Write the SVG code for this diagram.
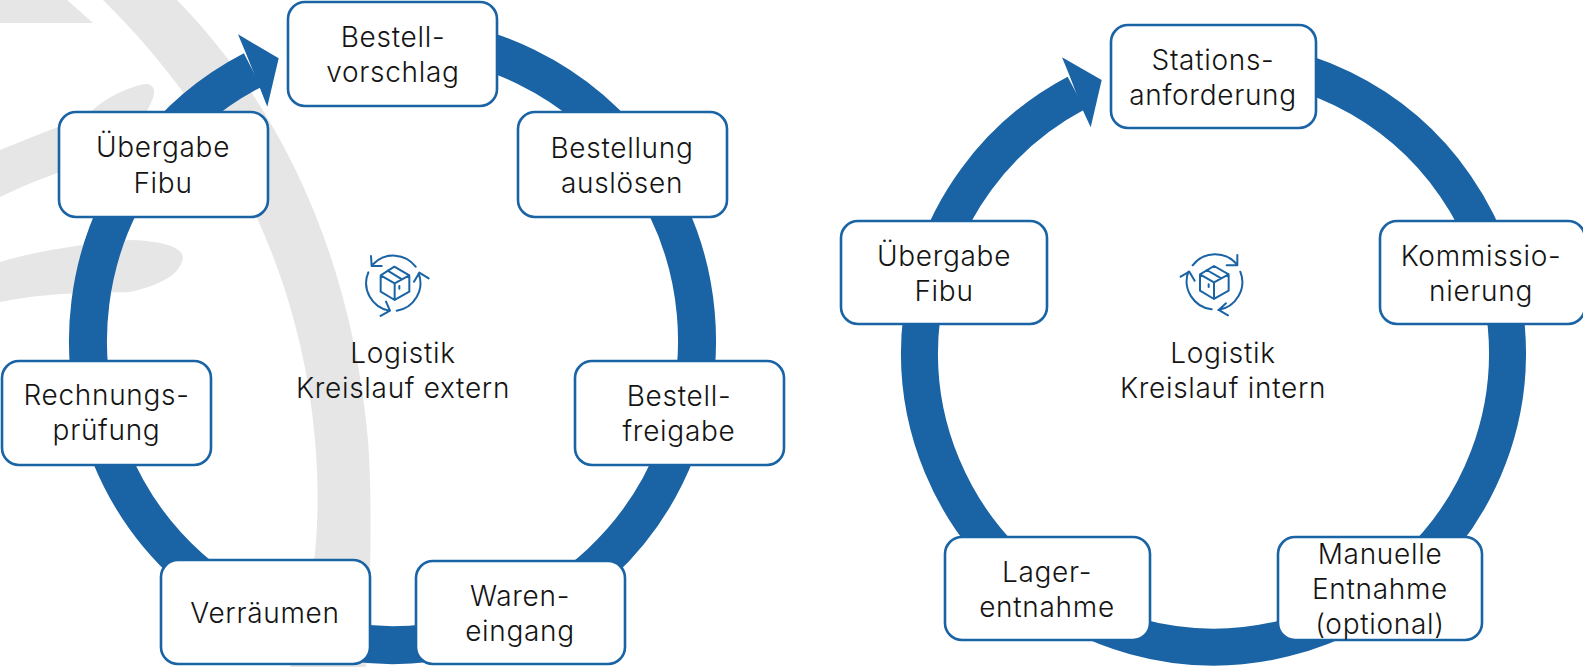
<svg xmlns="http://www.w3.org/2000/svg" width="1583" height="667" viewBox="0 0 1583 667">
<style>
.n{fill:#fff;stroke:#1a63a5;stroke-width:2.6}
text{font-family:"Inter","Liberation Sans",sans-serif;font-weight:300;font-size:28px;letter-spacing:.7px;fill:#141414;text-anchor:middle}
.r{fill:none;stroke:#1a63a5}
.h{fill:#1a63a5}
.g{fill:#e6e6e6}
.i{fill:none;stroke:#1a63a5;stroke-width:6;stroke-linecap:round;stroke-linejoin:round}
</style>
<g id="watermark">
<path class="g" d="M0 0H67L93 23H0Z"/>
<path class="g" d="M103 0H177C270 95 350 240 368 440C373 510 370 600 366 667H290C315 600 322 520 315 440C300 260 215 110 103 0Z"/>
<path class="g" d="M0 150C30 138 60 125 85 118C100 100 125 88 145 84C155 84 157 92 150 105C140 125 120 150 80 165C50 175 20 187 0 197Z"/>
<path class="g" d="M0 262C40 250 90 243 130 240C165 241 183 248 183 258C180 275 160 285 130 292C90 293 50 292 0 302Z"/>
</g>
<g id="connectors">
<path class="r" stroke-width="38" d="M392.5 36A304.5 304.5 0 1 1 252.57 70.06"/>
<polygon class="h" points="238,34.3 245.7,52.7 260,88.3 267.3,106.7 278.7,58.3"/>
<path class="r" stroke-width="37" d="M1213.5 59A294 294 0 1 1 1076.26 93"/>
<polygon class="h" points="1062,57.3 1069.3,75 1082.7,110 1090.7,127.3 1101.7,80"/>
</g>
<g id="node-bestellvorschlag"><rect class="n" x="288" y="2" width="209" height="104" rx="17"/><text x="393" y="46.500">Bestell-</text><text x="393" y="81.500">vorschlag</text></g>
<g id="node-bestellung"><rect class="n" x="518" y="112" width="209" height="105" rx="17"/><text x="622" y="157.500">Bestellung</text><text x="622" y="192.500">auslösen</text></g>
<g id="node-bestellfreigabe"><rect class="n" x="575" y="361" width="209" height="104" rx="17"/><text x="679" y="405.500">Bestell-</text><text x="679" y="440.500">freigabe</text></g>
<g id="node-wareneingang"><rect class="n" x="416" y="561" width="209" height="103" rx="17"/><text x="520" y="605.500">Waren-</text><text x="520" y="640.500">eingang</text></g>
<g id="node-verraeumen"><rect class="n" x="161" y="560" width="209" height="104" rx="17"/><text x="265" y="622.500">Verräumen</text></g>
<g id="node-rechnung"><rect class="n" x="2" y="361" width="209" height="104" rx="17"/><text x="106.500" y="405">Rechnungs-</text><text x="106.500" y="440">prüfung</text></g>
<g id="node-uebergabe-ext"><rect class="n" x="59" y="112" width="209" height="105" rx="17"/><text x="163" y="157">Übergabe</text><text x="163" y="192.500">Fibu</text></g>
<g id="node-center-ext">
<g transform="translate(340 240) scale(.3333)">
<path class="i" d="M100 72A84 84 0 0 1 227 80M85 97A84 84 0 0 0 148 212M170 212A84 84 0 0 0 236 100M93 48L95 78L125 78M138 185L150 212L122 228M222 125L238 98L266 115"/>
<path class="i" d="M163 80L122 106V155L164 180L208 155V106ZM122 106L164 130L208 106M164 130V180M143 92L186 118M178 138V146"/>
</g>
<text x="403" y="362.500">Logistik</text><text x="403" y="397.500">Kreislauf extern</text></g>
<g id="node-stationsanforderung"><rect class="n" x="1111" y="25" width="205" height="103" rx="17"/><text x="1213" y="69.500">Stations-</text><text x="1213" y="104.500">anforderung</text></g>
<g id="node-kommissionierung"><rect class="n" x="1380" y="221" width="205" height="103" rx="17"/><text x="1481" y="265.500">Kommissio-</text><text x="1481" y="300.500">nierung</text></g>
<g id="node-entnahme"><rect class="n" x="1278" y="537" width="204" height="103" rx="17"/><text x="1380" y="563.500">Manuelle</text><text x="1380" y="598.500">Entnahme</text><text x="1380" y="633.500">(optional)</text></g>
<g id="node-lager"><rect class="n" x="945" y="537" width="205" height="103" rx="17"/><text x="1047" y="581.500">Lager-</text><text x="1047" y="616.500">entnahme</text></g>
<g id="node-uebergabe-int"><rect class="n" x="841" y="221" width="206" height="103" rx="17"/><text x="944" y="265.500">Übergabe</text><text x="944" y="300.500">Fibu</text></g>
<g id="node-center-int">
<g transform="translate(1160 240) scale(.3333)">
<path class="i" d="M98 76A85 85 0 0 1 232 75M241 95A85 85 0 0 1 175 210M155 208A85 85 0 0 1 85 95M232 45V76H200M198 190L176 210L204 226M62 110L88 95L104 122"/>
<path class="i" d="M162 78L120 103V152L162 177L206 152V103ZM120 103L162 127L206 103M162 127V177M140 90L184 115M146 133V141"/>
</g>
<text x="1223" y="362.500">Logistik</text><text x="1223" y="397.500">Kreislauf intern</text></g>
</svg>
